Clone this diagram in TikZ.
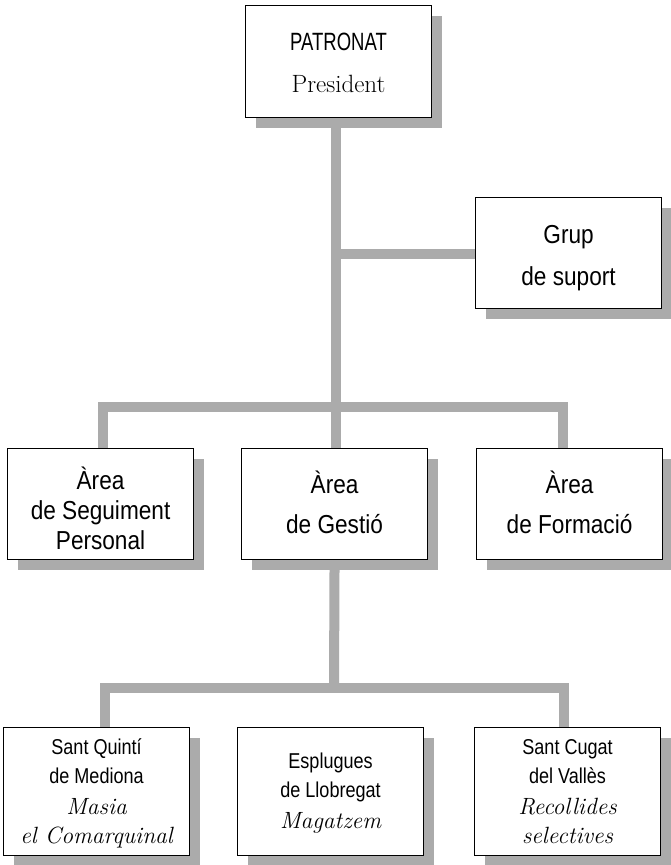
\documentclass[tikz,border=0pt]{standalone}
\usepackage{fontspec}
\newfontfamily\gothfont[FakeStretch=0.87]{Liberation Sans}
\newfontfamily\gothcap[FakeStretch=0.74]{Liberation Sans}
\newfontfamily\gothsm[FakeStretch=0.84]{Liberation Sans}
\usetikzlibrary{shadows,backgrounds}
\begin{document}
\begin{tikzpicture}[x=1pt,y=-1pt,
  conn/.style={line width=10pt, draw=black!33, line join=miter},
  box/.style={draw=black, line width=1.1pt, fill=white, inner sep=0pt,
    minimum width=186pt, anchor=north west,
    drop shadow={shadow xshift=10pt, shadow yshift=-10pt, fill=black!33, opacity=1}},
  big/.style={font=\gothfont\fontsize{26}{30}\selectfont, anchor=base, inner sep=0pt},
  caps/.style={font=\gothcap\fontsize{25}{30}\selectfont, anchor=base, inner sep=0pt},
  small/.style={font=\gothsm\fontsize{21.5}{24}\selectfont, anchor=base, inner sep=0pt},
  ser/.style={font=\fontsize{25}{30}\selectfont, anchor=base, inner sep=0pt},
  serit/.style={font=\itshape\fontsize{23.5}{28}\selectfont, anchor=base, inner sep=0pt}
]
\useasboundingbox (0,0) rectangle (671,865);
% boxes
\node[box, minimum height=112pt] (pat) at (245,5) {};
\node[box, minimum height=111pt] (grup) at (475,197) {};
\node[box, minimum height=111pt] (seg) at (7,448) {};
\node[box, minimum height=111pt] (ges) at (241,448) {};
\node[box, minimum height=111pt] (for) at (476,448) {};
\node[box, minimum height=128pt] (sq) at (3,727) {};
\node[box, minimum height=128pt] (es) at (237,727) {};
\node[box, minimum height=128pt] (sc) at (474,727) {};
% texts
\node[caps] (pat1) at (pat.center |- 0,50) {PATRONAT};
\node[ser] (pat2) at (pat.center |- 0,92) {President};
\node[big] (grup1) at (grup.center |- 0,243) {Grup};
\node[big] (grup2) at (grup.center |- 0,285) {de suport};
\node[big] (seg1) at (seg.center |- 0,489) {Àrea};
\node[big] (seg2) at (seg.center |- 0,519) {de Seguiment};
\node[big] (seg3) at (seg.center |- 0,549) {Personal};
\node[big] (ges1) at (ges.center |- 0,493) {Àrea};
\node[big] (ges2) at (ges.center |- 0,533) {de Gestió};
\node[big] (for1) at (for.center |- 0,493) {Àrea};
\node[big] (for2) at (for.center |- 0,533) {de Formació};
\node[small] (sq1) at (sq.center |- 0,754) {Sant Quintí};
\node[small] (sq2) at (sq.center |- 0,783) {de Mediona};
\node[serit] (sq3) at (sq.center |- 0,814) {Masia};
\node[serit] (sq4) at (sq.center |- 0,843) {el Comarquinal};
\node[small] (es1) at (es.center |- 0,768) {Esplugues};
\node[small] (es2) at (es.center |- 0,797) {de Llobregat};
\node[serit] (es3) at (es.center |- 0,828) {Magatzem};
\node[small] (sc1) at (sc.center |- 0,754) {Sant Cugat};
\node[small] (sc2) at (sc.center |- 0,783) {del Vallès};
\node[serit] (sc3) at (sc.center |- 0,814) {Recollides};
\node[serit] (sc4) at (sc.center |- 0,843) {selectives};
% connectors
\coordinate (j0) at (336,254);
\coordinate (j1) at (336,407);
\coordinate (j2) at (334,688);
\begin{scope}[on background layer]
\draw[conn] (pat.south -| j1) -- (j1);
\draw[conn] (j0) -- (grup.west |- j0);
\draw[conn] (j1) -| ([xshift=2pt]seg.north);
\draw[conn] (j1) -| ([xshift=-7pt]for.north);
\draw[conn] (ges.north -| j1) -- (j1);
\draw[conn] (ges.south) -- (j2);
\draw[conn] (j2) -| ([xshift=8pt]sq.north);
\draw[conn] (j2) -| ([xshift=-4pt]sc.north);
\end{scope}
\end{tikzpicture}
\end{document}
